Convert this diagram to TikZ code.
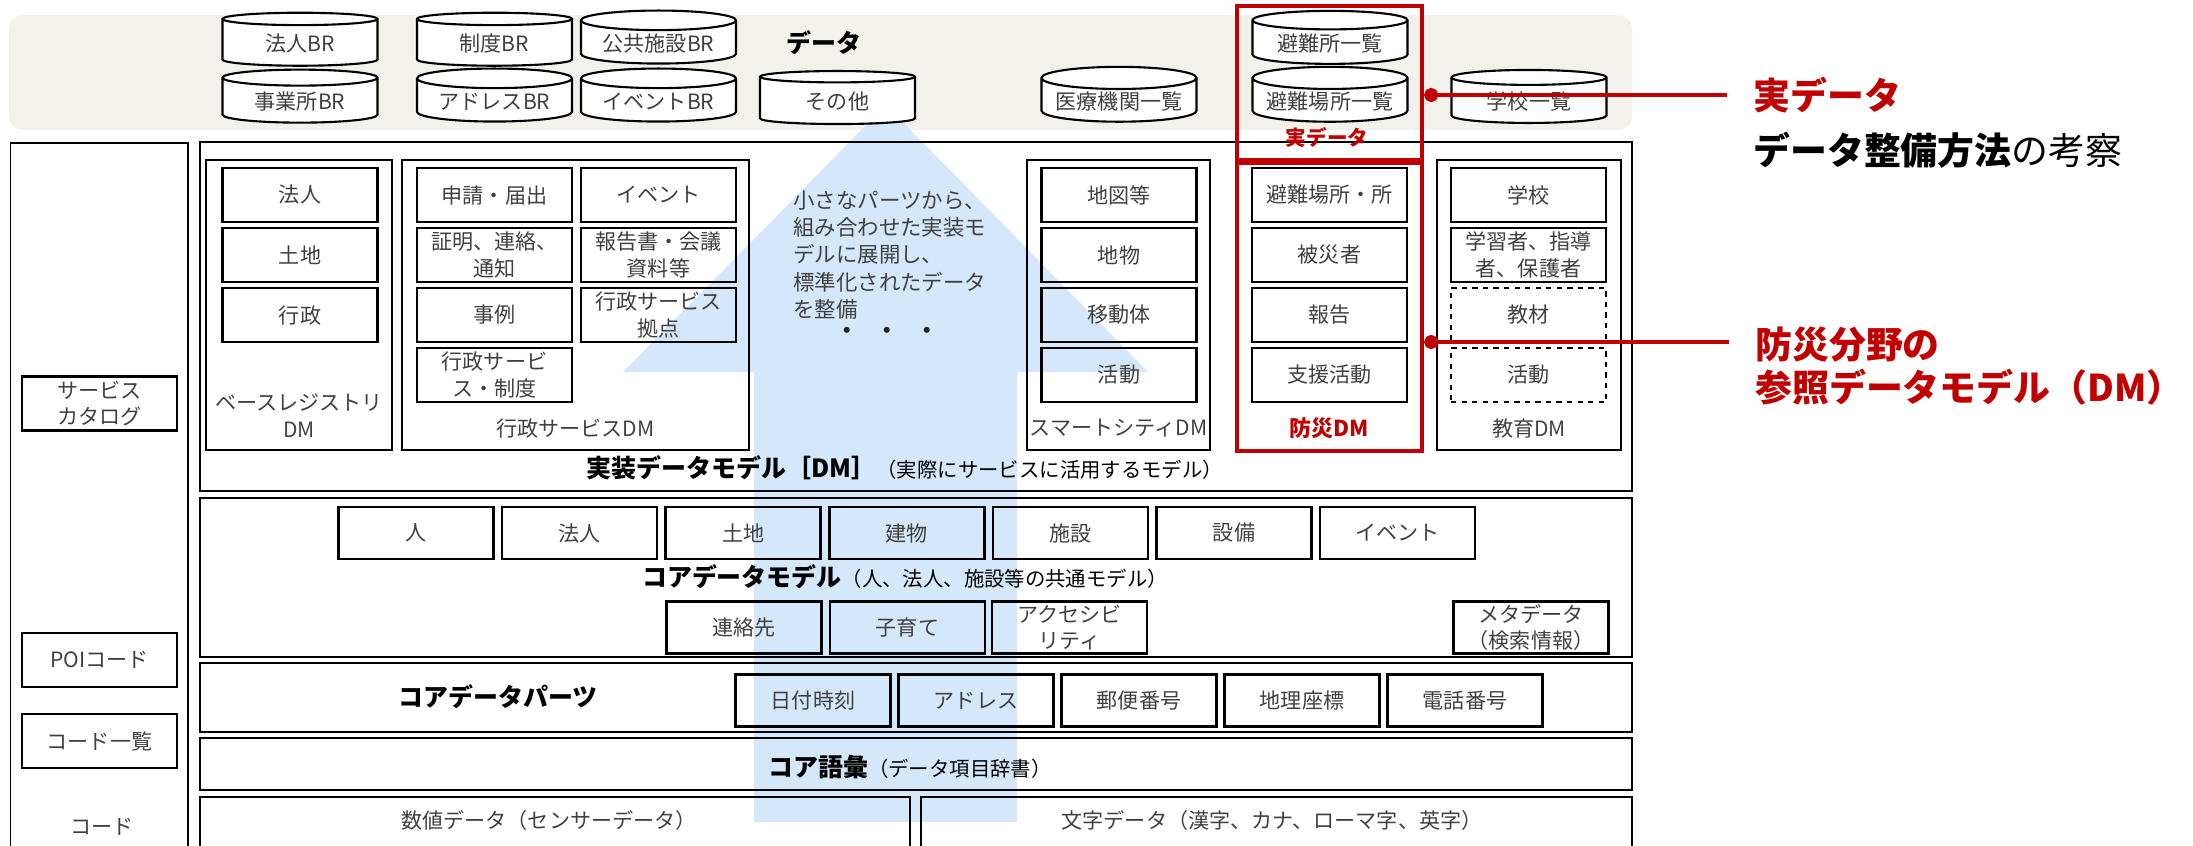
\documentclass[tikz,border=0pt]{standalone}
\usepackage{fontspec}
\setmainfont{Noto Sans CJK JP}
\usetikzlibrary{shapes.geometric,arrows.meta}

\definecolor{bandgray}{HTML}{F3F1EC}
\definecolor{arrowblue}{HTML}{D5E7FB}
\definecolor{keyred}{HTML}{C00000}
\definecolor{itemtext}{HTML}{404040}

\newcommand\itemfont{\fontsize{12}{15}\selectfont}
\newcommand\headfont{\fontsize{14.2}{17}\selectfont\bfseries}
\newcommand\notefont{\fontsize{11.6}{14}\selectfont}
\newcommand\blockfont{\fontsize{12.2}{15.6}\selectfont}
\newcommand\bigfont{\fontsize{21}{24.5}\selectfont\bfseries}

\tikzset{
  layer/.style={draw, line width=1.1pt},
  item/.style={draw, line width=1.4pt, minimum width=31mm, minimum height=10.8mm,
    inner sep=1pt, align=center, text=itemtext, font=\itemfont},
  coreitem/.style={item, minimum height=10.4mm},
  plain/.style={text=itemtext, font=\itemfont, align=center},
  db/.style={cylinder, shape border rotate=90, aspect=0.17, draw, line width=1.2pt,
    fill=white, minimum width=31mm, minimum height=10.6mm, inner sep=1pt,
    text=itemtext, font=\itemfont},
  redframe/.style={draw=keyred, line width=2.4pt, inner sep=0pt, minimum width=37mm},
  redline/.style={keyred, line width=2.4pt, {Circle[length=8pt]}-},
}

\begin{document}
\begin{tikzpicture}[x=0.2mm, y=-0.2mm]
  \useasboundingbox (0,0) rectangle (2193,845);
  \clip (0,0) rectangle (2193,845);

  % Data band
  \fill[bandgray, rounded corners=2.6mm] (9,15) rectangle (1632,130);

  % Big arrow behind the layers
  \fill[arrowblue] (886,105) -- (1148,372) -- (1017,372) -- (1017,822)
    -- (754,822) -- (754,372) -- (623,372) -- cycle;

  % Data stores
  \foreach \lbl/\px/\py/\nm in {法人BR/300/43.5/hojin, 事業所BR/300/101.5/jigyo,
      制度BR/494.5/43.5/seido, アドレスBR/494.5/101.5/addr,
      公共施設BR/658.5/43.5/kokyo, イベントBR/658.5/101.5/event,
      その他/837.5/101.5/other, 医療機関一覧/1119/101.5/iryo,
      避難所一覧/1330/43.5/hinanjo, 避難場所一覧/1330/101.5/hinanbasho,
      学校一覧/1529/101.5/gakko}
    \node[db] (db-\nm) at (\px,\py) {\lbl};
  \node[font=\headfont] (dataLabel) at (824,43) {データ};

  % Side column
  \draw[layer] (10.5,143) rectangle (188,860);
  \node[item] (catalog) at (99.5,403.5) {サービス\\カタログ};
  \node[item] (poi) at (99.5,660) {POIコード};
  \node[item] (codelist) at (99.5,741) {コード一覧};
  \node[plain] (code) at (102,827) {コード};

  % Implementation data model
  \draw[layer] (200,142) rectangle (1632,491);
  \node[font=\headfont] (implLabel) at (905,468)
    {実装データモデル［DM］{\notefont\mdseries（実際にサービスに活用するモデル）}};

  % Base registry DM
  \draw[layer] (206,160) rectangle (392,450);
  \foreach \lbl [count=\i] in {法人,土地,行政}
    \node[item] (br\i) at (300,{135+60*\i}) {\lbl};
  \node[plain] (brLabel) at (299,415.5) {ベースレジストリ\\DM};

  % Administrative service DM
  \draw[layer] (402,160) rectangle (749,450);
  \foreach \lbl/\px/\py/\nm in {申請・届出/494.5/195/apply, イベント/658.5/195/event,
      {証明、連絡、\\通知}/494.5/255/notice, {報告書・会議\\資料等}/658.5/255/report,
      事例/494.5/315/case, {行政サービス\\拠点}/658.5/315/base,
      {行政サービ\\ス・制度}/494.5/375/system}
    \node[item] (gs-\nm) at (\px,\py) {\lbl};
  \node[plain] (gsLabel) at (575.5,428) {行政サービスDM};

  % Idea text
  \node[anchor=west, align=left, font=\blockfont, text=itemtext, inner sep=0pt] (idea) at (793,255)
    {小さなパーツから、\\組み合わせた実装モ\\デルに展開し、\\標準化されたデータ\\を整備};
  \node[font=\blockfont\bfseries, text=black!85] (dots) at (887,333)
    {・\hspace{3.7mm}・\hspace{3.7mm}・};

  % Smart city DM
  \draw[layer] (1027,160) rectangle (1210,450);
  \foreach \lbl [count=\i] in {地図等,地物,移動体,活動}
    \node[item] (sc\i) at (1119,{135+60*\i}) {\lbl};
  \node[plain] (scLabel) at (1118.5,428) {スマートシティDM};

  % Disaster DM
  \foreach \lbl [count=\i] in {避難場所・所,被災者,報告,支援活動}
    \node[item] (bs\i) at (1329.5,{135+60*\i}) {\lbl};
  \node[font=\fontsize{12.5}{15}\selectfont\bfseries, text=keyred] (bsLabel) at (1329.5,428) {防災DM};

  % Education DM
  \draw[layer] (1437,160) rectangle (1621,450);
  \node[item] (ed1) at (1528.5,195) {学校};
  \node[item] (ed2) at (1528.5,255) {学習者、指導\\者、保護者};
  \node[item, dashed] (ed3) at (1528.5,315) {教材};
  \node[item, dashed] (ed4) at (1528.5,375) {活動};
  \node[plain] (edLabel) at (1529,428) {教育DM};

  % Core data model
  \draw[layer] (200,498) rectangle (1632,657);
  \foreach \lbl [count=\i] in {人,法人,土地,建物,施設,設備,イベント}
    \node[coreitem] (cm\i) at ({416+163.6*(\i-1)},533) {\lbl};
  \node[font=\headfont] (coreLabel) at (905,577)
    {コアデータモデル{\notefont\mdseries（人、法人、施設等の共通モデル）}};
  \node[coreitem] (contact) at (744,627.5) {連絡先};
  \node[coreitem] (childcare) at (907.5,627.5) {子育て};
  \node[coreitem] (access) at (1069.5,627.5) {アクセシビ\\リティ};
  \node[coreitem] (meta) at (1531,627.5) {メタデータ\\（検索情報）};

  % Core data parts
  \draw[layer] (200,663) rectangle (1632,732);
  \node[font=\headfont] (partsLabel) at (498,697) {コアデータパーツ};
  \foreach \lbl [count=\i] in {日付時刻,アドレス,郵便番号,地理座標,電話番号}
    \node[coreitem] (cp\i) at ({813+163*(\i-1)},700.5) {\lbl};

  % Core vocabulary
  \draw[layer] (200,738) rectangle (1632,790);
  \node[font=\headfont] (vocabLabel) at (910,767)
    {コア語彙{\notefont\mdseries（データ項目辞書）}};

  % Raw data
  \draw[layer] (200,797) rectangle (910,860);
  \draw[layer] (921,797) rectangle (1632,860);
  \node[plain] (numLabel) at (549,820) {数値データ（センサーデータ）};
  \node[plain] (charLabel) at (1272,820) {文字データ（漢字、カナ、ローマ字、英字）};

  % Red frames
  \node[redframe, minimum height=30.8mm] (realFrame) at (1329.5,83) {};
  \node[font=\fontsize{11.7}{14}\selectfont\bfseries, text=keyred] (realSmall) at (1327,137) {実データ};
  \node[redframe, minimum height=57.6mm] (bousaiFrame) at (1329.5,307) {};

  % Callouts
  \coordinate (realTip) at (1727,95);
  \coordinate (bousaiTip) at (1729,342);
  \draw[redline] (realFrame.east |- realTip) -- (realTip);
  \draw[redline] (bousaiFrame.east |- bousaiTip) -- (bousaiTip);
  \node[anchor=west, font=\bigfont, text=keyred, inner sep=0pt] (realLabel) at (1753,95) {実データ};
  \node[anchor=west, font=\bigfont, inner sep=0pt] (methodLabel) at (1753,150)
    {データ整備方法{\mdseries の考察}};
  \node[anchor=west, align=left, font=\bigfont, text=keyred, inner sep=0pt] (bousaiLabel) at (1755,366.5)
    {防災分野の\\参照データモデル（DM）};
\end{tikzpicture}
\end{document}
